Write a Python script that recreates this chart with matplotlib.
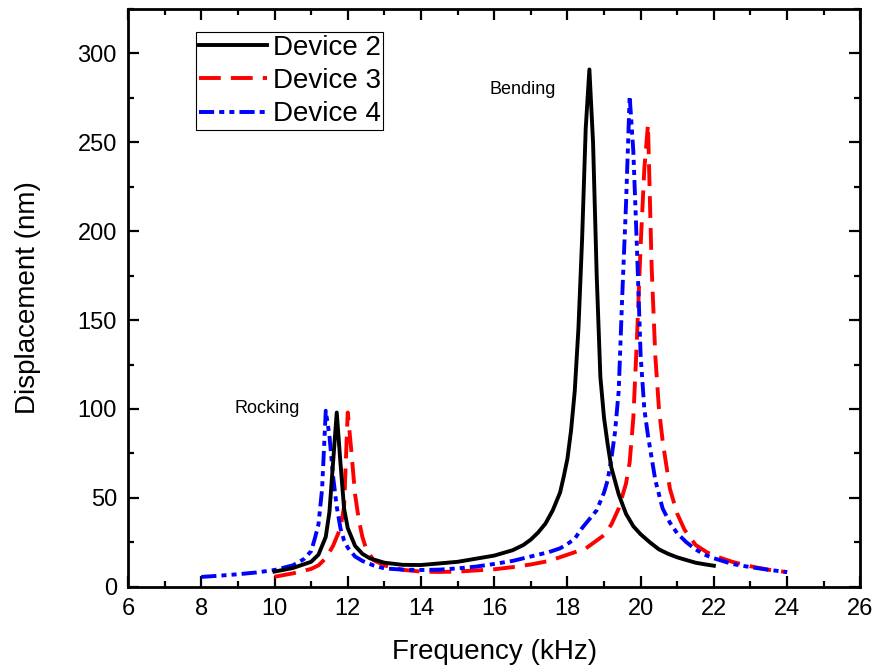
import numpy as np
import matplotlib
matplotlib.use("Agg")
import matplotlib.pyplot as plt
from matplotlib.ticker import MultipleLocator

plt.rcParams['font.family'] = ['Liberation Sans', 'DejaVu Sans']

# Device 2
f_dev2 = [10.0, 10.5, 11.0, 11.2, 11.4, 11.5, 11.6, 11.7, 11.8, 11.9, 12.0, 12.2,
          12.4, 12.6, 13.0, 13.5, 14.0, 15.0, 16.0, 16.5, 16.8, 17.0, 17.2, 17.4,
          17.6, 17.8, 17.9, 18.0, 18.1, 18.2, 18.3, 18.4, 18.5, 18.6, 18.7, 18.8,
          18.9, 19.0, 19.1, 19.2, 19.4, 19.6, 19.8, 20.0, 20.25, 20.5, 20.75, 21.0,
          21.25, 21.5, 21.75, 22.0]
d_dev2 = [8.5, 10.5, 14.0, 18.0, 28.0, 42.0, 70.0, 98.0, 70.0, 44.0, 33.0, 23.0,
          18.5, 16.0, 13.5, 12.3, 12.2, 14.0, 17.5, 20.5, 23.5, 26.5, 30.5, 35.5,
          43.0, 53.0, 62.0, 72.0, 88.0, 110.0, 145.0, 195.0, 258.0, 291.0, 250.0, 175.0,
          118.0, 95.0, 80.0, 67.0, 52.0, 41.0, 34.0, 29.5, 25.0, 21.0, 18.5, 16.5,
          15.0, 13.5, 12.6, 11.8]

# Device 3
f_dev3 = [10.0, 10.5, 11.0, 11.2, 11.4, 11.6, 11.7, 11.8, 11.9, 12.0, 12.1, 12.2,
          12.3, 12.4, 12.5, 12.7, 13.0, 13.5, 14.0, 14.5, 15.0, 16.0, 16.5, 17.0,
          17.5, 18.0, 18.5, 19.0, 19.2, 19.4, 19.6, 19.7, 19.8, 19.9, 20.0, 20.1,
          20.2, 20.3, 20.4, 20.5, 20.6, 20.8, 21.0, 21.2, 21.5, 21.8, 22.0, 22.5,
          23.0, 23.5, 24.0]
d_dev3 = [5.6, 7.5, 10.0, 12.0, 16.0, 23.0, 28.0, 33.0, 45.0, 98.0, 76.0, 52.0,
          38.0, 28.0, 21.5, 15.0, 12.0, 9.5, 8.5, 8.3, 8.5, 9.8, 11.0, 12.5,
          14.5, 18.0, 21.5, 29.0, 35.0, 44.0, 58.0, 70.0, 95.0, 140.0, 192.0, 235.0,
          260.0, 180.0, 130.0, 100.0, 82.0, 55.0, 41.0, 32.0, 23.5, 19.5, 17.5, 14.0,
          11.5, 9.5, 8.2]

# Device 4
f_dev4 = [8.0, 8.5, 9.0, 9.5, 10.0, 10.5, 10.8, 11.0, 11.1, 11.2, 11.3, 11.4,
          11.5, 11.6, 11.7, 11.8, 11.9, 12.0, 12.2, 12.4, 12.7, 13.0, 13.5, 14.0,
          14.5, 15.0, 15.5, 16.0, 16.5, 17.0, 17.5, 17.8, 18.0, 18.2, 18.4, 18.6,
          18.8, 19.0, 19.1, 19.2, 19.3, 19.4, 19.5, 19.6, 19.7, 19.8, 19.9, 20.0,
          20.1, 20.2, 20.4, 20.6, 20.8, 21.0, 21.25, 21.5, 21.75, 22.0, 22.5, 23.0,
          23.5, 24.0]
d_dev4 = [5.5, 6.2, 7.0, 8.0, 9.4, 12.0, 15.5, 20.0, 27.0, 35.0, 55.0, 99.0,
          85.0, 62.0, 45.0, 33.0, 26.0, 22.0, 17.0, 14.5, 12.0, 10.3, 9.6, 9.4,
          9.6, 10.3, 11.3, 12.8, 14.5, 17.0, 19.5, 21.6, 24.0, 27.0, 33.0, 38.0,
          43.0, 53.0, 60.0, 72.0, 87.0, 110.0, 165.0, 215.0, 276.0, 245.0, 190.0, 130.0,
          100.0, 85.0, 60.0, 44.0, 36.0, 30.0, 25.0, 21.0, 18.0, 16.0, 12.8, 11.0,
          9.5, 8.2]

fig = plt.figure(figsize=(8.77, 6.68), dpi=100)
ax = fig.add_axes([0.146, 0.1217, 0.835, 0.8648])

lw = 2.8
ax.plot(f_dev2, d_dev2, color='black', lw=lw, label='Device 2', zorder=4)
ax.plot(f_dev3, d_dev3, color='red', lw=lw, dashes=(5.6, 2.6), label='Device 3', zorder=2)
ax.plot(f_dev4, d_dev4, color='blue', lw=lw, dashes=(3.9, 1.3, 1.3, 1.3, 1.3, 1.3),
        label='Device 4', zorder=3)

ax.set_xlim(6, 26)
ax.set_ylim(0, 325)
ax.xaxis.set_major_locator(MultipleLocator(2))
ax.xaxis.set_minor_locator(MultipleLocator(1))
ax.yaxis.set_major_locator(MultipleLocator(50))
ax.yaxis.set_minor_locator(MultipleLocator(25))
ax.tick_params(which='both', direction='in', top=True, right=True, width=1.6)
ax.tick_params(which='major', length=8, labelsize=17, pad=8)
ax.tick_params(which='minor', length=4.5)
for s in ax.spines.values():
    s.set_linewidth(2)

ax.set_xlabel('Frequency (kHz)', fontsize=20, labelpad=14)
ax.set_ylabel('Displacement (nm)', fontsize=20, labelpad=26)

ax.text(15.86, 280, 'Bending', fontsize=13, va='center')
ax.text(8.9, 100, 'Rocking', fontsize=13, va='center')

leg = ax.legend(loc='upper left', bbox_to_anchor=(0.093, 0.96), borderaxespad=0,
                fontsize=20, handlelength=2.45, handletextpad=0.2, borderpad=0.1,
                labelspacing=0.26, fancybox=False, framealpha=1, edgecolor='black')
leg.get_frame().set_linewidth(0.8)

fig.savefig('out.png', dpi=100)
